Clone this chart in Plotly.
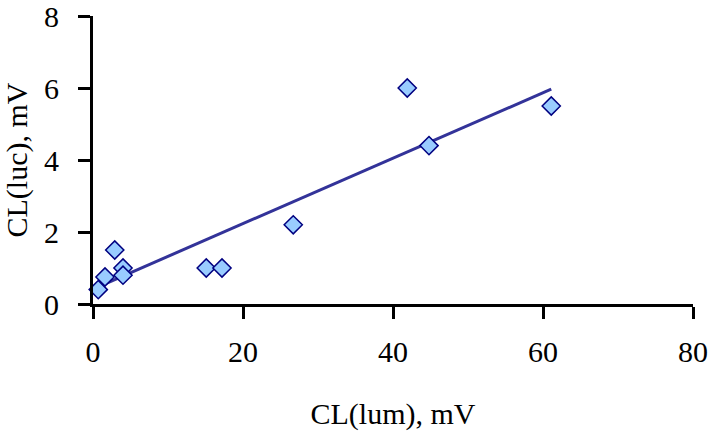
import numpy as np
import plotly.graph_objects as go

# Data
cl_lum = [0.7, 1.6, 2.9, 4.0, 4.0, 15.1, 17.2, 26.7, 41.9, 44.8, 61.1]
cl_luc = [0.4, 0.75, 1.5, 1.0, 0.8, 1.0, 1.0, 2.2, 6.0, 4.4, 5.5]
x_ticks = [0, 20, 40, 60, 80]
y_ticks = [0, 2, 4, 6, 8]

# Linear trendline from the data
slope, intercept = np.polyfit(cl_lum, cl_luc, 1)
x_fit = [min(cl_lum), max(cl_lum)]
y_fit = [slope * v + intercept for v in x_fit]

fig = go.Figure()
fig.add_trace(go.Scatter(
    x=x_fit, y=y_fit, mode="lines",
    line=dict(color="#333399", width=3),
    hoverinfo="skip", showlegend=False,
))
fig.add_trace(go.Scatter(
    x=cl_lum, y=cl_luc, mode="markers",
    marker=dict(symbol="diamond", size=14, color="#99CCFF",
                line=dict(color="#000080", width=1.5)),
    showlegend=False, cliponaxis=False,
))

font = dict(family="Liberation Serif, Times New Roman, serif", size=30, color="black")
axis_common = dict(
    showline=True, linecolor="black", linewidth=3,
    ticks="outside", ticklen=12, tickwidth=3, tickcolor="black",
    showgrid=False, zeroline=False, tickfont=font, automargin=False,
    ticklabeloverflow="allow",
)

fig.update_layout(
    width=709, height=434,
    margin=dict(l=93, r=16, t=16, b=130),
    paper_bgcolor="white", plot_bgcolor="rgba(0,0,0,0)",
    font=font,
    xaxis=dict(range=[0, 80.0001], tickvals=x_ticks, ticklabelstandoff=7,
               title=dict(text="CL(lum), mV", font=font, standoff=36),
               **axis_common),
    yaxis=dict(range=[0, 8.0001], tickvals=y_ticks, ticklabelstandoff=13,
               title=dict(text="CL(luc), mV", font=font, standoff=23),
               **axis_common),
)

fig.write_html("out.html", config={"displayModeBar": False},
               post_script="document.body.style.margin='0px';")
